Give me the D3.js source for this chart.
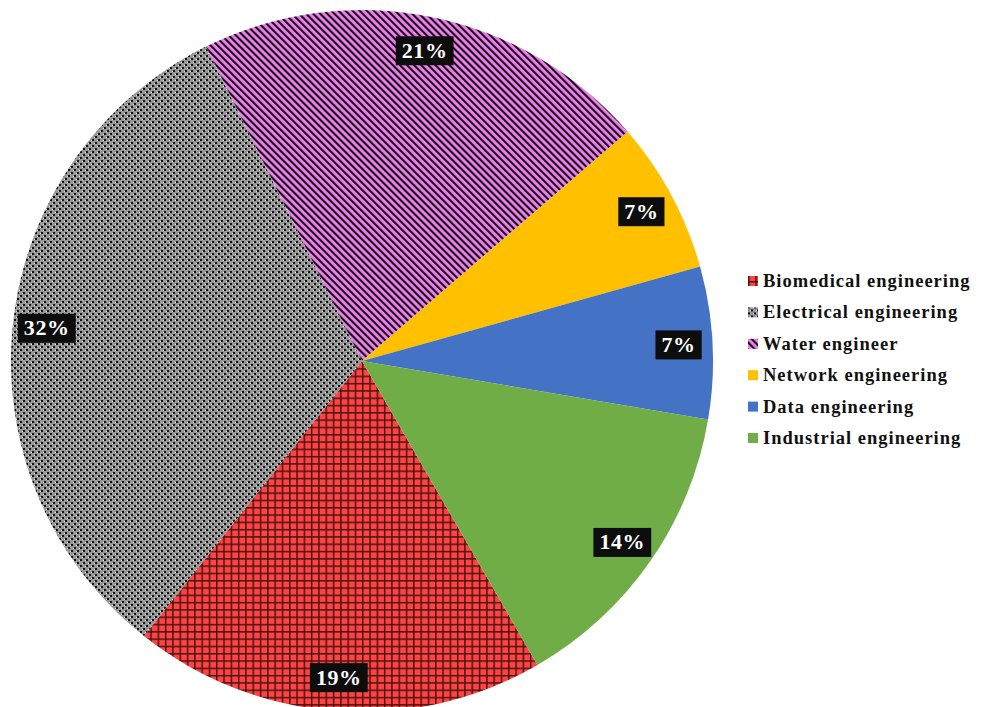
<!DOCTYPE html>
<html>
<head>
<meta charset="utf-8">
<script src="https://cdn.jsdelivr.net/npm/d3@7"></script>
<style>
  html, body { margin: 0; padding: 0; background: #fff; }
  svg { display: block; }
  text { font-family: "Liberation Serif", "Times New Roman", Times, "DejaVu Serif", serif; font-weight: bold; }
</style>
</head>
<body>
<svg id="chart" width="986" height="707"></svg>
<script>
// Share of respondents by engineering field (percent)
const categories = [
  "Biomedical engineering",
  "Electrical engineering",
  "Water engineer",
  "Network engineering",
  "Data engineering",
  "Industrial engineering"
];
const values = [19, 32, 21, 7, 7, 14];
const fills = ["url(#grid)", "url(#dots)", "url(#stripes)", "#ffc000", "#4472c4", "#70ad47"];

const svg = d3.select("#chart");
const defs = svg.append("defs");

// Red cross-hatch grid
const grid = defs.append("pattern").attr("id", "grid")
  .attr("patternUnits", "userSpaceOnUse").attr("width", 7.3).attr("height", 7.3);
grid.append("rect").attr("width", 7.3).attr("height", 7.3).attr("fill", "#ff4343");
grid.append("rect").attr("x", 0).attr("y", 0).attr("width", 7.3).attr("height", 1.5).attr("fill", "#4a1414");
grid.append("rect").attr("x", 0).attr("y", 0).attr("width", 1.5).attr("height", 7.3).attr("fill", "#4a1414");

// Grey confetti dots
const dots = defs.append("pattern").attr("id", "dots")
  .attr("patternUnits", "userSpaceOnUse").attr("width", 6).attr("height", 6);
dots.append("rect").attr("width", 6).attr("height", 6).attr("fill", "#979797");
dots.append("rect").attr("x", 0).attr("y", 0).attr("width", 2).attr("height", 2).attr("fill", "#111");
dots.append("rect").attr("x", 3).attr("y", 3).attr("width", 2).attr("height", 2).attr("fill", "#111");
dots.append("rect").attr("x", 2).attr("y", 4).attr("width", 1).attr("height", 1).attr("fill", "#e6e6e6");
dots.append("rect").attr("x", 5).attr("y", 1).attr("width", 1).attr("height", 1).attr("fill", "#e6e6e6");

// Pink diagonal stripes
const stripes = defs.append("pattern").attr("id", "stripes")
  .attr("patternUnits", "userSpaceOnUse").attr("width", 5).attr("height", 5)
  .attr("patternTransform", "rotate(-45)");
stripes.append("rect").attr("width", 5).attr("height", 5).attr("fill", "#f27ef2");
stripes.append("rect").attr("x", 0).attr("y", 0).attr("width", 2.1).attr("height", 5).attr("fill", "#111");

// Pie geometry
const cx = 362, cy = 361, radius = 351;
const startDeg = 150;
const pie = d3.pie().sort(null).value(d => d)
  .startAngle(startDeg * Math.PI / 180)
  .endAngle((startDeg + 360) * Math.PI / 180);
const arcs = pie(values);
const arc = d3.arc().innerRadius(0).outerRadius(radius);
const labelArc = d3.arc().innerRadius(radius - 34).outerRadius(radius - 34);

const g = svg.append("g").attr("transform", `translate(${cx},${cy})`);
g.selectAll("path.slice").data(arcs).join("path")
  .attr("class", "slice")
  .attr("d", arc)
  .attr("fill", (d, i) => fills[i]);

// Value labels on black boxes
const labels = g.selectAll("g.lbl").data(arcs).join("g")
  .attr("class", "lbl")
  .attr("transform", d => `translate(${labelArc.centroid(d)})`);
labels.each(function(d) {
  const sel = d3.select(this);
  const txt = sel.append("text")
    .attr("text-anchor", "middle")
    .attr("y", 7.5)
    .attr("font-size", 22)
    .attr("letter-spacing", 0.6)
    .attr("fill", "#fff")
    .text(d.data + "%");
  const bb = txt.node().getBBox();
  sel.insert("rect", "text")
    .attr("x", bb.x - 6).attr("y", -14)
    .attr("width", bb.width + 12).attr("height", 29)
    .attr("fill", "#0d0d0d");
});

// Legend
const legend = svg.append("g").attr("transform", "translate(748,281)");
const rowGap = 31.4;
const rows = legend.selectAll("g.row").data(categories).join("g")
  .attr("class", "row")
  .attr("transform", (d, i) => `translate(0,${i * rowGap})`);
rows.append("rect")
  .attr("x", 0).attr("y", -5).attr("width", 10).attr("height", 10)
  .attr("fill", (d, i) => fills[i]);
rows.append("text")
  .attr("x", 15).attr("y", 6)
  .attr("font-size", 18.5)
  .attr("letter-spacing", 1.0)
  .attr("fill", "#111")
  .text(d => d);
</script>
</body>
</html>
